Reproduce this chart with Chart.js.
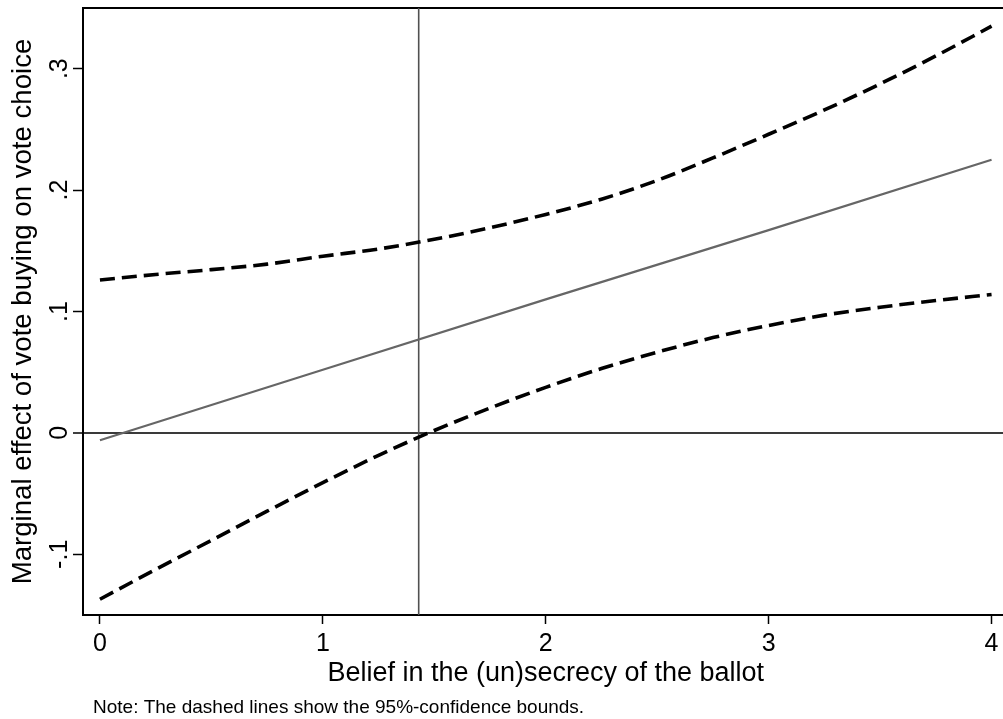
<!DOCTYPE html>
<html>
<head>
<meta charset="utf-8">
<title>Marginal effect of vote buying</title>
<script src="https://cdn.jsdelivr.net/npm/chart.js@4.4.1/dist/chart.umd.min.js"></script>
<style>
  html, body { margin: 0; padding: 0; background: #fff; overflow: hidden; }
  #wrap { width: 1003px; height: 719px; overflow: hidden; }
  canvas { display: block; }
</style>
</head>
<body>
<div id="wrap"><canvas id="chart" width="1016" height="719"></canvas></div>
<script>
// Belief in the (un)secrecy of the ballot (moderator values)
const beliefGrid = [0, 0.25, 0.5, 0.75, 1, 1.25, 1.5, 1.75, 2, 2.25, 2.5, 2.75, 3, 3.25, 3.5, 3.75, 4];
// 95% confidence bounds of the marginal effect
const upperBound = [0.126, 0.1305, 0.1345, 0.139, 0.1455, 0.1515, 0.1595, 0.169, 0.180, 0.1925, 0.208, 0.2265, 0.246, 0.266, 0.2875, 0.3105, 0.335];
const lowerBound = [-0.137, -0.1125, -0.0885, -0.0645, -0.041, -0.0185, 0.002, 0.0205, 0.0375, 0.053, 0.0665, 0.0785, 0.0885, 0.097, 0.1035, 0.109, 0.114];
// Point estimate of the marginal effect
const estimateX = [0, 1, 2, 3, 4];
const estimateY = [-0.006, 0.052, 0.110, 0.167, 0.225];
// Reference line where the lower bound crosses zero
const referenceX = 1.43;

const xRange = [-0.076, 4.076];
const yRange = [-0.15, 0.35];
const xTicks = [0, 1, 2, 3, 4];
const xTickLabels = ['0', '1', '2', '3', '4'];
const yTicks = [-0.1, 0, 0.1, 0.2, 0.3];
const yTickLabels = ['-.1', '0', '.1', '.2', '.3'];

const xTitle = 'Belief in the (un)secrecy of the ballot';
const yTitle = 'Marginal effect of vote buying on vote choice';
const noteText = 'Note: The dashed lines show the 95%-confidence bounds.';

const FONT = '"Liberation Sans", Arial, Helvetica, sans-serif';
Chart.defaults.font.family = FONT;
Chart.defaults.color = '#000';

const toPoints = (xs, ys) => xs.map((x, i) => ({ x: x, y: ys[i] }));

// Plot frame around the chart area
const framePlugin = {
  id: 'frame',
  beforeDatasetsDraw(chart) {
    const { ctx, chartArea: a } = chart;
    ctx.save();
    ctx.strokeStyle = '#000';
    ctx.lineWidth = 2;
    ctx.strokeRect(a.left, a.top, a.right - a.left, a.bottom - a.top);
    ctx.restore();
  }
};

// Footnote under the axis title
const notePlugin = {
  id: 'note',
  afterDraw(chart) {
    const ctx = chart.ctx;
    ctx.save();
    ctx.font = '19px ' + FONT;
    ctx.fillStyle = '#000';
    ctx.textAlign = 'left';
    ctx.textBaseline = 'alphabetic';
    ctx.fillText(noteText, 93, 713);
    ctx.restore();
  }
};

const dashed = {
  borderColor: '#000',
  borderWidth: 3.6,
  borderDash: [15, 7],
  borderCapStyle: 'butt',
  pointRadius: 0,
  fill: false,
  cubicInterpolationMode: 'monotone'
};

new Chart(document.getElementById('chart'), {
  type: 'line',
  data: {
    datasets: [
      Object.assign({ label: 'Upper bound', data: toPoints(beliefGrid, upperBound) }, dashed),
      Object.assign({ label: 'Lower bound', data: toPoints(beliefGrid, lowerBound) }, dashed),
      {
        label: 'Marginal effect',
        data: toPoints(estimateX, estimateY),
        borderColor: '#666666',
        borderWidth: 2.2,
        pointRadius: 0,
        fill: false
      },
      {
        label: 'Reference',
        data: [{ x: referenceX, y: yRange[0] }, { x: referenceX, y: yRange[1] }],
        borderColor: '#505050',
        borderWidth: 1.6,
        pointRadius: 0,
        fill: false
      }
    ]
  },
  options: {
    responsive: false,
    devicePixelRatio: 1,
    animation: false,
    events: [],
    layout: { padding: { left: 0, top: 8, right: 7.5, bottom: 29 } },
    plugins: { legend: { display: false }, tooltip: { enabled: false }, title: { display: false } },
    scales: {
      x: {
        type: 'linear',
        position: 'bottom',
        min: xRange[0],
        max: xRange[1],
        afterBuildTicks: s => { s.ticks = xTicks.map(v => ({ value: v })); },
        afterFit: s => { s.height = 75; s.paddingLeft = 0; s.paddingRight = 0; },
        ticks: {
          autoSkip: false,
          maxRotation: 0,
          padding: 5,
          color: '#000',
          font: { size: 25 },
          callback: v => xTickLabels[xTicks.indexOf(v)]
        },
        grid: { drawOnChartArea: false, drawTicks: true, tickLength: 9, tickColor: '#000', tickWidth: 1.5 },
        border: { display: false },
        title: { display: true, text: xTitle, color: '#000', font: { size: 27 }, padding: { top: 0, bottom: 0.7 } }
      },
      y: {
        type: 'linear',
        position: 'left',
        min: yRange[0],
        max: yRange[1],
        afterBuildTicks: s => { s.ticks = yTicks.map(v => ({ value: v })); },
        afterFit: s => { s.width = 83; s.paddingTop = 0; s.paddingBottom = 0; },
        ticks: {
          autoSkip: false,
          minRotation: 90,
          maxRotation: 90,
          crossAlign: 'center',
          padding: -2,
          color: '#000',
          font: { size: 25 },
          callback: v => yTickLabels[yTicks.indexOf(v)]
        },
        grid: {
          drawTicks: true,
          tickLength: 10,
          tickColor: '#000',
          tickWidth: 1.5,
          color: c => (c.tick && c.tick.value === 0) ? '#3a3a3a' : 'rgba(0,0,0,0)',
          lineWidth: c => (c.tick && c.tick.value === 0) ? 2 : 1
        },
        border: { display: false },
        title: { display: true, text: yTitle, color: '#000', font: { size: 27.6 }, padding: { top: 6.5, bottom: 0 } }
      }
    }
  },
  plugins: [framePlugin, notePlugin]
});
</script>
</body>
</html>
